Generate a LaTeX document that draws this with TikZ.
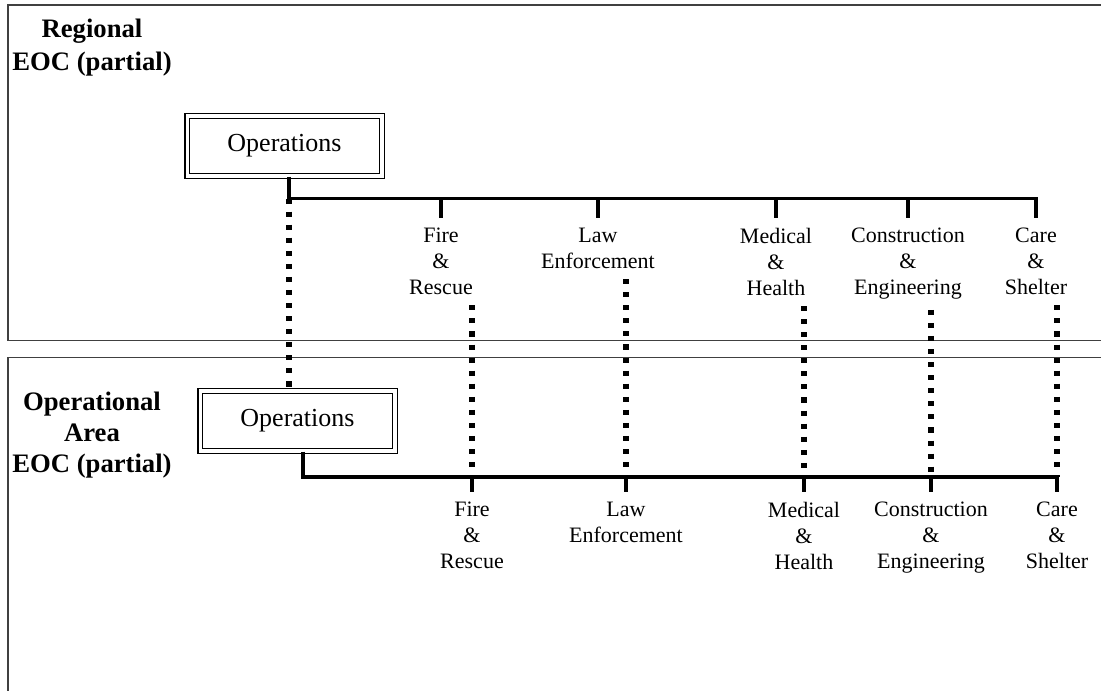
\documentclass[tikz,border=0pt]{standalone}
\usepackage{fontspec}
\setmainfont{Liberation Serif}
\usetikzlibrary{positioning}

\begin{document}
\begin{tikzpicture}[
  x=0.75pt, y=-0.75pt,
  opsbox/.style={
    draw, double, line width=1.1pt, double distance=2.5pt,
    minimum width=146pt,
    minimum height=45pt,
    inner sep=0pt,
    font=\fontsize{19.5}{23}\selectfont
  },
  unit/.style={
    anchor=north,
    align=center,
    inner xsep=0pt, inner ysep=7.5pt,
    font=\fontsize{16.5}{19.5}\selectfont
  },
  eoc/.style={
    anchor=north,
    align=center,
    inner sep=0pt,
    font=\fontsize{20}{24.75}\selectfont\bfseries
  },
  trunk/.style={line width=2.9pt},
  dotline/.style={line width=4pt, dash pattern=on 3.8pt off 6pt},
  frame/.style={line width=0.9pt, draw=black!75}
]

\path[use as bounding box] (0,0) rectangle (1101,690);
\clip (0,0) rectangle (1101,690);

% Level frames
\draw[frame] (1110,5) -- (8,5) -- (8,340.5) -- (1110,340.5);
\draw[frame] (1110,357.5) -- (8,357.5) -- (8,700);

% Regional EOC
\node[eoc] (regional) at (92,19) {Regional\\EOC (partial)};
\node[opsbox] (opsR) at (284.5,146) {Operations};
\coordinate (jR) at (289,198.5);

\node[unit] (fireR) at (441,218) {Fire\\\&\\Rescue};
\node[unit] (lawR) at (598,218) {Law\\Enforcement};
\node[unit] (medR) at (776,218) {Medical\\\&\\Health};
\node[unit] (conR) at (908,218) {Construction\\\&\\Engineering};
\node[unit] (careR) at (1036,218) {Care\\\&\\Shelter};

% Operational Area EOC
\node[eoc, font=\fontsize{20}{23.25}\selectfont\bfseries] (oparea) at (92,392)
  {Operational\\Area\\EOC (partial)};
\node[opsbox] (opsO) at (297.5,421) {Operations};
\coordinate (jO) at (303,477);

\node[unit] (fireO) at (472,492) {Fire\\\&\\Rescue};
\node[unit] (lawO) at (626,492) {Law\\Enforcement};
\node[unit] (medO) at (804,492) {Medical\\\&\\Health};
\node[unit] (conO) at (931,492) {Construction\\\&\\Engineering};
\node[unit] (careO) at (1057,492) {Care\\\&\\Shelter};

% Regional tree
\draw[trunk] (opsR.south -| jR) -- (jR) -- (jR -| careR.north) -- (careR.north);
\foreach \u in {fireR,lawR,medR,conR}
  \draw[trunk] (\u.north |- jR) -- (\u.north);

% Operational Area tree
\draw[trunk] (opsO.south -| jO) -- (jO) -- (jO -| careO.north) -- (careO.north);
\foreach \u in {fireO,lawO,medO,conO}
  \draw[trunk] (\u.north |- jO) -- (\u.north);

% Links between levels
\draw[dotline] (jR) -- (opsO.north -| jR);
\draw[dotline] (fireR.south -| fireO.north) -- (fireO.north |- jO);
\draw[dotline] (lawR.south -| lawO.north) -- (lawO.north |- jO);
\draw[dotline] (medR.south -| medO.north) -- (medO.north |- jO);
\draw[dotline] (conR.south -| conO.north) -- (conO.north |- jO);
\draw[dotline] (careR.south -| careO.north) -- (careO.north |- jO);

\end{tikzpicture}
\end{document}
